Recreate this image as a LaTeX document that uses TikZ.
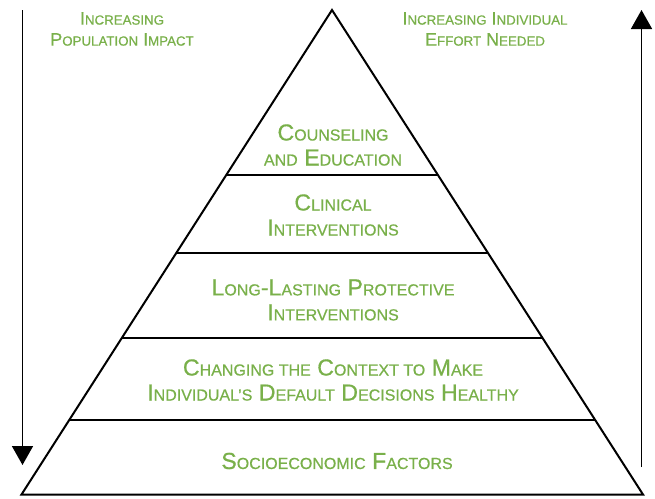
\documentclass[tikz,border=0pt]{standalone}
\usepackage{fontspec}
\setmainfont{Liberation Sans}[FakeBold=0.6]
\usepackage{xcolor}
\definecolor{mygreen}{HTML}{79B04A}
\usepackage{tikz}
\usetikzlibrary{shapes,arrows,arrows.meta,positioning,calc}
\newcommand{\lo}[1]{{\fontsize{16pt}{25pt}\selectfont #1}}
\newcommand{\tlo}[1]{{\fontsize{13.3pt}{21pt}\selectfont #1}}
\tikzstyle{tier} = [text=mygreen, align=center, inner sep=0pt,
font=\fontsize{23.2pt}{25pt}\selectfont]
\tikzstyle{note} = [text=mygreen, align=center, inner sep=0pt,
font=\fontsize{18pt}{21pt}\selectfont]
\tikzstyle{edge} = [draw, line width=2pt, line join=miter]
\tikzstyle{line} = [draw, line width=1.6pt, -{Triangle[length=19pt, width=21pt]}]

\begin{document}
\begin{tikzpicture}[x=1pt, y=-1pt]
    \useasboundingbox (0,0) rectangle (655,498);
    % Pyramid
    \coordinate (apex) at (332,10);
    \coordinate (bl) at (21.5,494.5);
    \coordinate (br) at (643,494.5);
    \path [edge] (bl) -- (apex) -- (br) -- cycle;
    \foreach \t in {0.3406, 0.5015, 0.678, 0.8462}
        \path [edge] ($(apex)!\t!(bl)$) -- ($(apex)!\t!(br)$);

    % Nodes
    \node [tier] (counsel) at (333,145) {C\lo{OUNSELING}\\\lo{AND} E\lo{DUCATION}};
    \node [tier] (clinical) at (333,215) {C\lo{LINICAL}\\I\lo{NTERVENTIONS}};
    \node [tier] (lasting) at (333,300) {L\lo{ONG}-L\lo{ASTING} P\lo{ROTECTIVE}\\I\lo{NTERVENTIONS}};
    \node [tier] (context) at (333,380) {C\lo{HANGING THE} C\lo{ONTEXT TO} M\lo{AKE}\\I\lo{NDIVIDUAL}\lo{\char"2019S} D\lo{EFAULT} D\lo{ECISIONS} H\lo{EALTHY}};
    \node [tier] (socio) at (337,461) {S\lo{OCIOECONOMIC} F\lo{ACTORS}};

    \node [note] (impact) at (122,29) {I\tlo{NCREASING}\\P\tlo{OPULATION} I\tlo{MPACT}};
    \node [note] (effort) at (485,29) {I\tlo{NCREASING} I\tlo{NDIVIDUAL}\\E\tlo{FFORT} N\tlo{EEDED}};

    % Arrows
    \coordinate (downtop) at (22.5,10);
    \coordinate (downend) at (22.5,465);
    \coordinate (upbot) at (641.5,467);
    \coordinate (uptop) at (641.5,10);
    \path [line] (downtop) -- (downend);
    \path [line] (upbot) -- (uptop);
\end{tikzpicture}
\end{document}
